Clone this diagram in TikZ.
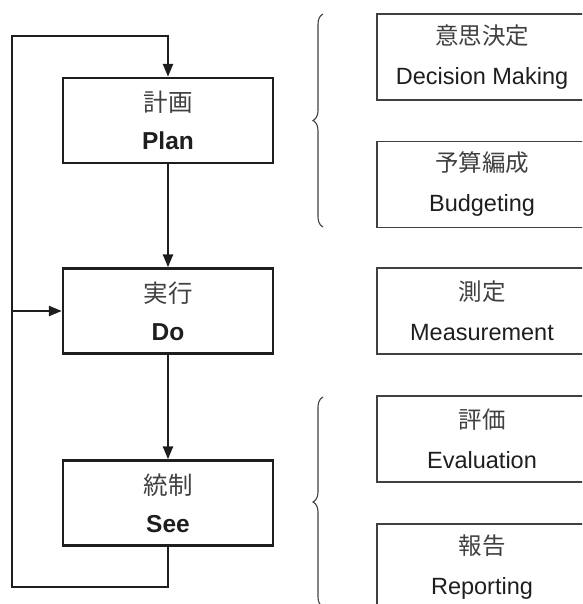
\documentclass[tikz,border=0pt]{standalone}
\usepackage{fontspec}
\setmainfont{Liberation Sans}
\newfontfamily\jp{Noto Sans CJK JP}
\usetikzlibrary{positioning,arrows.meta,decorations.pathreplacing}
\definecolor{ink}{HTML}{1E1E1E}
\definecolor{soft}{HTML}{404040}

\begin{document}
\begin{tikzpicture}[
  x=1pt, y=-1pt,
  stage/.style={draw=ink, line width=2.4pt, minimum width=210pt, minimum height=85pt,
    inner sep=0pt, align=center, text=ink, font=\fontsize{24.5}{38}\selectfont},
  task/.style={draw=soft, line width=1.1pt, minimum width=210pt, minimum height=86pt,
    inner sep=0pt, align=center, text=ink, font=\fontsize{23.5}{40}\selectfont},
  flow/.style={draw=ink, line width=2.4pt, -{Triangle[length=13pt,width=10pt]}},
  curly/.style={draw=soft, line width=1.1pt, decorate, decoration={brace, amplitude=10pt}}
]
\path[use as bounding box, clip] (0,0) rectangle (582,604);

\node[stage] (plan) at (168,120.5) {{\jp\color{soft}計画}\\\textbf{Plan}};
\node[stage] (do) at (168,311) {{\jp\color{soft}実行}\\\textbf{Do}};
\node[stage] (see) at (168,503) {{\jp\color{soft}統制}\\\textbf{See}};

\node[task] (decide) at (482,57) {{\jp\color{soft}意思決定}\\Decision Making};
\node[task] (budget) at (482,184.5) {{\jp\color{soft}予算編成}\\Budgeting};
\node[task] (measure) at (482,311) {{\jp\color{soft}測定}\\Measurement};
\node[task] (evaluate) at (482,439) {{\jp\color{soft}評価}\\Evaluation};
\node[task] (report) at (482,567) {{\jp\color{soft}報告}\\Reporting};

\coordinate (lowleft) at (12,587);
\coordinate (topleft) at (12,36);
\coordinate (join) at (lowleft |- do.west);

\draw[flow] (plan) -- (do);
\draw[flow] (do) -- (see);
\draw[flow] (see.south) |- (lowleft) -- (topleft) -| (plan.north);
\draw[flow] (join) -- (do.west);

\draw[curly] (323,227) -- (323,14);
\draw[curly] (323,607) -- (323,397);

\end{tikzpicture}
\end{document}
